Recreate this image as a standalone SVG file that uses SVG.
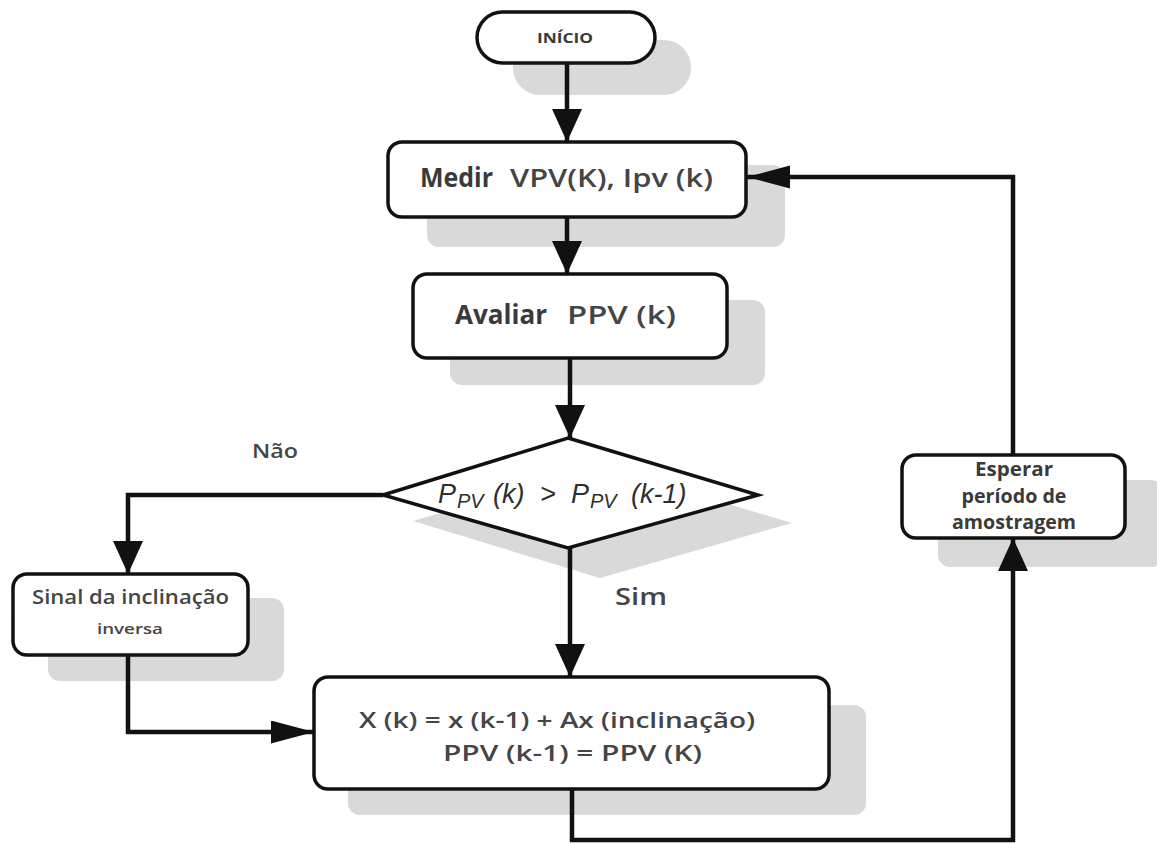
<svg xmlns="http://www.w3.org/2000/svg" width="1157" height="843" viewBox="0 0 1157 843">
  <style>
    .shadow { fill: #d9d9d9; stroke: none; }
    .box { fill: #ffffff; stroke: #111111; stroke-width: 3.5; }
    .link { fill: none; stroke: #111111; stroke-width: 4.5; stroke-linejoin: miter; }
    .t { font-family: "Open Sans", "Liberation Sans", sans-serif; fill: #3a3a3a; }
    .b { font-weight: 700; }
    .m { font-weight: 600; fill: #454545; }
    .it { font-family: "Liberation Sans", Arial, sans-serif; font-style: italic; fill: #2e2e2e; }
  </style>
  <defs>
    <marker id="headV" markerUnits="userSpaceOnUse" markerWidth="34" markerHeight="32" refX="33" refY="15" orient="auto">
      <path d="M0,0 L33,15 L0,30 z" fill="#111111"/>
    </marker>
    <marker id="headH" markerUnits="userSpaceOnUse" markerWidth="44" markerHeight="24" refX="43" refY="11.5" orient="auto">
      <path d="M0,0 L43,11.5 L0,23 z" fill="#111111"/>
    </marker>
  </defs>

  <!-- drop shadows -->
  <g id="shadows">
    <rect class="shadow" x="513" y="40" width="178" height="55" rx="27"/>
    <rect class="shadow" x="427" y="165" width="358" height="82" rx="12"/>
    <rect class="shadow" x="450" y="300" width="315" height="85" rx="12"/>
    <polygon class="shadow" points="600,466 792,523 600,578 413,521"/>
    <rect class="shadow" x="48" y="598" width="236" height="83" rx="12"/>
    <rect class="shadow" x="348" y="705" width="518" height="110" rx="12"/>
    <rect class="shadow" x="938" y="480" width="225" height="87" rx="12"/>
  </g>

  <!-- connectors -->
  <g id="connectors">
    <path class="link" d="M567,63 L567,142" marker-end="url(#headV)"/>
    <path class="link" d="M567,217 L567,274" marker-end="url(#headV)"/>
    <path class="link" d="M570,358 L570,438" marker-end="url(#headV)"/>
    <path class="link" d="M383,495 L128,495 L128,574" marker-end="url(#headV)"/>
    <path class="link" d="M570,548 L570,677" marker-end="url(#headV)"/>
    <path class="link" d="M128,655 L128,732 L314,732" marker-end="url(#headH)"/>
    <path class="link" d="M572,789 L572,840 L1013,840 L1013,538" marker-end="url(#headV)"/>
    <path class="link" d="M1013,455 L1013,177 L747,177" marker-end="url(#headH)"/>
  </g>

  <g id="inicio">
    <rect class="box" x="477" y="12" width="178" height="51" rx="25.5"/>
    <text class="t b" x="565" y="43" font-size="15" text-anchor="middle" textLength="56" lengthAdjust="spacingAndGlyphs">INÍCIO</text>
  </g>

  <g id="medir">
    <rect class="box" x="388" y="142" width="358" height="75" rx="14"/>
    <text class="t b" x="420" y="187" font-size="26" textLength="73" lengthAdjust="spacingAndGlyphs">Medir</text>
    <text class="t m" x="510" y="187" font-size="25" textLength="203" lengthAdjust="spacingAndGlyphs">VPV(K), Ipv (k)</text>
  </g>

  <g id="avaliar">
    <rect class="box" x="413" y="274" width="314" height="84" rx="14"/>
    <text class="t b" x="455" y="324" font-size="26" textLength="92" lengthAdjust="spacingAndGlyphs">Avaliar</text>
    <text class="t m" x="567" y="324" font-size="25" textLength="109" lengthAdjust="spacingAndGlyphs">PPV (k)</text>
  </g>

  <g id="decisao">
    <polygon class="box" points="568,438 758,495 568,548 383,495"/>
    <text class="it" font-size="27" y="503">
      <tspan x="438">P</tspan><tspan x="457" y="508" font-size="20">PV</tspan><tspan x="493" y="503">(k)</tspan><tspan x="540">&gt;</tspan><tspan x="571">P</tspan><tspan x="590" y="508" font-size="20">PV</tspan><tspan x="631" y="503">(k-1)</tspan>
    </text>
  </g>

  <text class="t m" x="252" y="458" font-size="20" textLength="46" lengthAdjust="spacingAndGlyphs">Não</text>
  <text class="t m" x="615" y="605" font-size="23" textLength="52" lengthAdjust="spacingAndGlyphs">Sim</text>

  <g id="sinal">
    <rect class="box" x="13" y="574" width="235" height="81" rx="14"/>
    <text class="t m" x="32" y="604" font-size="19" textLength="197" lengthAdjust="spacingAndGlyphs">Sinal da inclinação</text>
    <text class="t m" x="97" y="634" font-size="15" textLength="66" lengthAdjust="spacingAndGlyphs">inversa</text>
  </g>

  <g id="atualizar">
    <rect class="box" x="314" y="677" width="515" height="112" rx="14"/>
    <text class="t m" x="359" y="728" font-size="22" textLength="396" lengthAdjust="spacingAndGlyphs">X (k) = x (k-1) + Ax (inclinação)</text>
    <text class="t m" x="443" y="761" font-size="22" textLength="259" lengthAdjust="spacingAndGlyphs">PPV (k-1) = PPV (K)</text>
  </g>

  <g id="esperar">
    <rect class="box" x="902" y="455" width="223" height="83" rx="14"/>
    <text class="t b" x="1014" y="476" font-size="19" text-anchor="middle" textLength="78" lengthAdjust="spacingAndGlyphs">Esperar</text>
    <text class="t b" x="1014" y="503" font-size="19" text-anchor="middle" textLength="105" lengthAdjust="spacingAndGlyphs">período de</text>
    <text class="t b" x="1014" y="529" font-size="19" text-anchor="middle" textLength="124" lengthAdjust="spacingAndGlyphs">amostragem</text>
  </g>
</svg>
